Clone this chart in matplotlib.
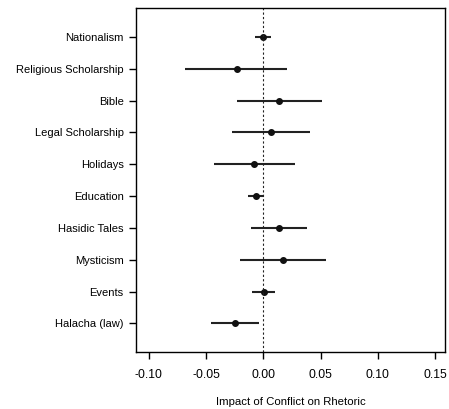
import matplotlib
matplotlib.use("Agg")
import matplotlib.pyplot as plt

categories = ["Nationalism", "Religious Scholarship", "Bible", "Legal Scholarship",
              "Holidays", "Education", "Hasidic Tales", "Mysticism", "Events", "Halacha (law)"]
estimates = [0.000, -0.023, 0.014, 0.007, -0.008, -0.0065, 0.014, 0.0175, 0.0004, -0.025]
lower = [-0.007, -0.068, -0.023, -0.027, -0.043, -0.0135, -0.0106, -0.020, -0.010, -0.046]
upper = [0.007, 0.021, 0.051, 0.041, 0.028, 0.0004, 0.038, 0.055, 0.0106, -0.004]
xticks = [-0.10, -0.05, 0.00, 0.05, 0.10, 0.15]
xticklabels = ["-0.10", "-0.05", "0.00", "0.05", "0.10", "0.15"]

plt.rcParams['font.family'] = ['Liberation Sans', 'DejaVu Sans']

fig = plt.figure(figsize=(4.49, 4.09), dpi=100)
ax = fig.add_axes([0.303, 0.139, 0.688, 0.841])

ypos = list(range(1, len(categories) + 1))
ax.hlines(ypos, lower, upper, color="#222222", lw=1.5)
ax.plot(estimates, ypos, "o", color="#111111", ms=4)
ax.axvline(0, color="#222222", lw=0.8, ls=(0, (2, 2)))

ax.set_xlim(-0.111, 0.1585)
ax.set_ylim(10.9, 0.1)
ax.set_yticks(ypos)
ax.set_yticklabels(categories, fontsize=8, color="#000000")
ax.set_xticks(xticks)
ax.set_xticklabels(xticklabels, fontsize=8.7, color="#000000")
ax.tick_params(direction="out", length=5, width=1, pad=4)
ax.tick_params(axis="x", pad=7)
for s in ax.spines.values():
    s.set_linewidth(1.0)
ax.set_xlabel("Impact of Conflict on Rhetoric", fontsize=8.2, labelpad=12)

fig.savefig("out.png", dpi=100)
